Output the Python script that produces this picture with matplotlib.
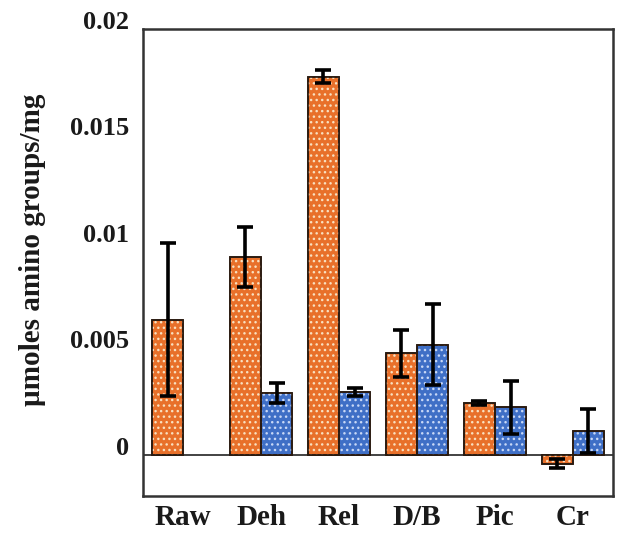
import numpy as np
import matplotlib
matplotlib.use("Agg")
import matplotlib.pyplot as plt

categories = ["Raw", "Deh", "Rel", "D/B", "Pic", "Cr"]
orange_vals = [0.00635, 0.00929, 0.01776, 0.00477, 0.00243, -0.00041]
orange_err = [0.0036, 0.0014, 0.0003, 0.0011, 0.0001, 0.0002]
blue_vals = [np.nan, 0.00289, 0.00296, 0.00518, 0.00223, 0.00113]
blue_err = [np.nan, 0.00047, 0.0002, 0.0019, 0.00124, 0.00104]
yticks = [0, 0.005, 0.01, 0.015, 0.02]
ytick_labels = ["0", "0.005", "0.01", "0.015", "0.02"]

ORANGE = "#E8702A"
BLUE = "#3F6FC6"
plt.rcParams["hatch.linewidth"] = 1.0
plt.rcParams["font.family"] = ["Liberation Serif", "DejaVu Serif"]

fig = plt.figure(figsize=(6.2, 5.33), dpi=100)
ax = fig.add_axes([143 / 620, 1 - 496 / 533, 470 / 620, 467 / 533])

x = np.arange(len(categories))
w = 0.4
err_kw = dict(ecolor="black", elinewidth=2.6, capsize=6, capthick=2.6)

for xs, vals, errs, col in [(x - w / 2, orange_vals, orange_err, ORANGE),
                            (x + w / 2, blue_vals, blue_err, BLUE)]:
    ax.bar(xs, vals, w, color=col, edgecolor="#2a1a10", linewidth=1.2, zorder=2)
    ax.bar(xs, vals, w, color="none", edgecolor="#f8e0c0" if col == ORANGE else "#c8d8f6",
           hatch="...", linewidth=0, zorder=3)
    ax.bar(xs, vals, w, color="none", edgecolor="#2a1a10", linewidth=1.2, zorder=4)
    ax.errorbar(xs, vals, yerr=errs, fmt="none", zorder=5, **err_kw)

ax.axhline(0, color="#222222", linewidth=1.2, zorder=1)

ax.set_xlim(-0.515, 5.515)
ax.set_ylim(-0.00193, 0.02)
ax.set_yticks(yticks)
ax.set_yticklabels(ytick_labels)
ax.set_xticks(x)
ax.set_xticklabels(categories)
ax.tick_params(axis="both", length=0)
ax.tick_params(axis="y", pad=10, labelsize=19)
ax.tick_params(axis="x", pad=6, labelsize=21)
for lab in ax.get_xticklabels() + ax.get_yticklabels():
    lab.set_fontweight("bold")
    lab.set_color("#1a1a1a")
for lab in ax.get_yticklabels():
    lab.set_verticalalignment("baseline")

for s in ax.spines.values():
    s.set_color("#333333")
    s.set_linewidth(1.8)

fig.text(0.052, 1 - 250 / 533, "\u00b5moles amino groups/mg", rotation=90,
         ha="center", va="center", fontsize=21, fontweight="bold", color="#1a1a1a")

fig.savefig("out.png", dpi=100, facecolor="white")
